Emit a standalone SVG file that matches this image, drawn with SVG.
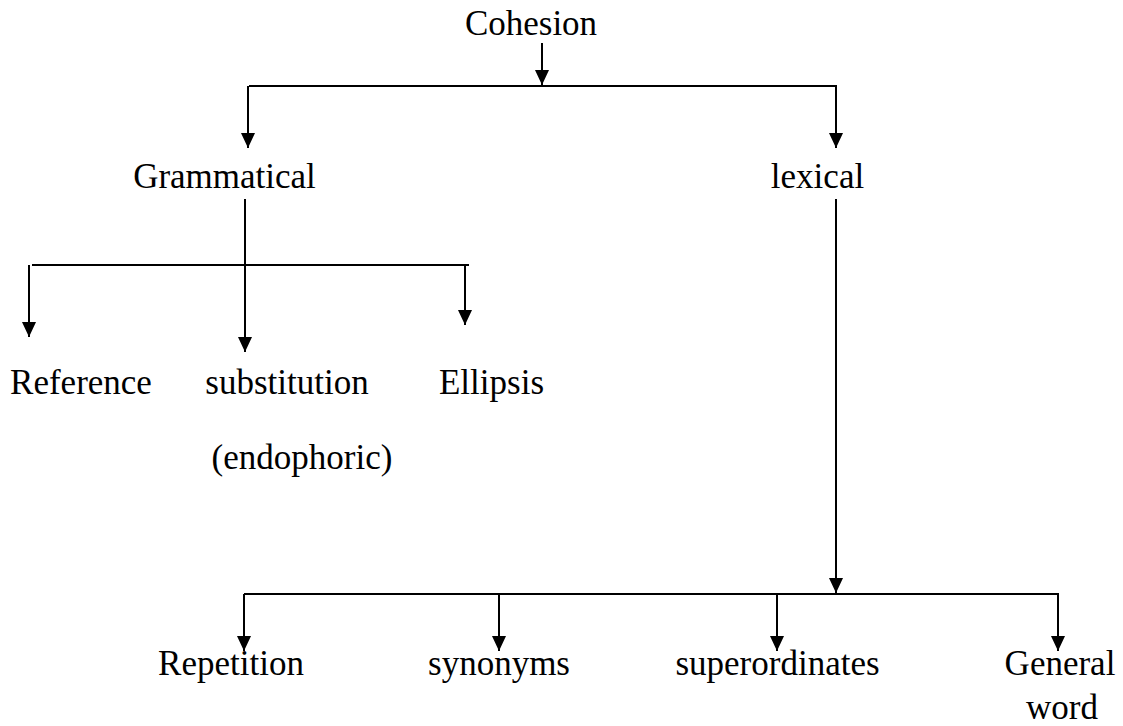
<svg xmlns="http://www.w3.org/2000/svg" width="1123" height="726" viewBox="0 0 1123 726">
<style>
  text { font-family: "Liberation Serif", "Times New Roman", serif; font-size: 35px; fill: #000; text-anchor: middle; }
  .c { stroke: #000; stroke-width: 2; fill: none; }
  .a { stroke: #000; stroke-width: 2; fill: none; marker-end: url(#ah); }
</style>
<defs>
  <marker id="ah" markerWidth="14" markerHeight="15" refX="15" refY="7" orient="auto" markerUnits="userSpaceOnUse">
    <path d="M0,0 L15,7 L0,14 z" fill="#000"/>
  </marker>
</defs>
<rect width="1123" height="726" fill="#fff"/>
<g id="connectors">
  <line class="a" x1="542" y1="43" x2="542" y2="85"/>
  <line class="c" x1="249" y1="86" x2="837" y2="86"/>
  <line class="a" x1="248" y1="86" x2="248" y2="148"/>
  <line class="a" x1="836" y1="86" x2="836" y2="148"/>
  <line class="a" x1="245" y1="199" x2="245" y2="352"/>
  <line class="c" x1="32" y1="265" x2="469" y2="265"/>
  <line class="a" x1="29" y1="265" x2="29" y2="337"/>
  <line class="a" x1="465" y1="265" x2="465" y2="325"/>
  <line class="a" x1="836" y1="199" x2="836" y2="593"/>
  <line class="c" x1="244" y1="594" x2="1059" y2="594"/>
  <line class="a" x1="244" y1="594" x2="244" y2="651"/>
  <line class="a" x1="499" y1="594" x2="499" y2="651"/>
  <line class="a" x1="777" y1="594" x2="777" y2="651"/>
  <line class="a" x1="1058" y1="594" x2="1058" y2="651"/>
</g>
<g id="cohesion"><text x="531" y="35">Cohesion</text></g>
<g id="grammatical"><text x="224.5" y="188">Grammatical</text></g>
<g id="lexical"><text x="817.5" y="188">lexical</text></g>
<g id="reference"><text x="81" y="394">Reference</text></g>
<g id="substitution"><text x="287" y="394">substitution</text><text x="302" y="469">(endophoric)</text></g>
<g id="ellipsis"><text x="491.5" y="394">Ellipsis</text></g>
<g id="repetition"><text x="231" y="675">Repetition</text></g>
<g id="synonyms"><text x="499" y="675">synonyms</text></g>
<g id="superordinates"><text x="777.5" y="675">superordinates</text></g>
<g id="general-word"><text x="1060" y="675">General</text><text x="1062" y="719">word</text></g>
</svg>
